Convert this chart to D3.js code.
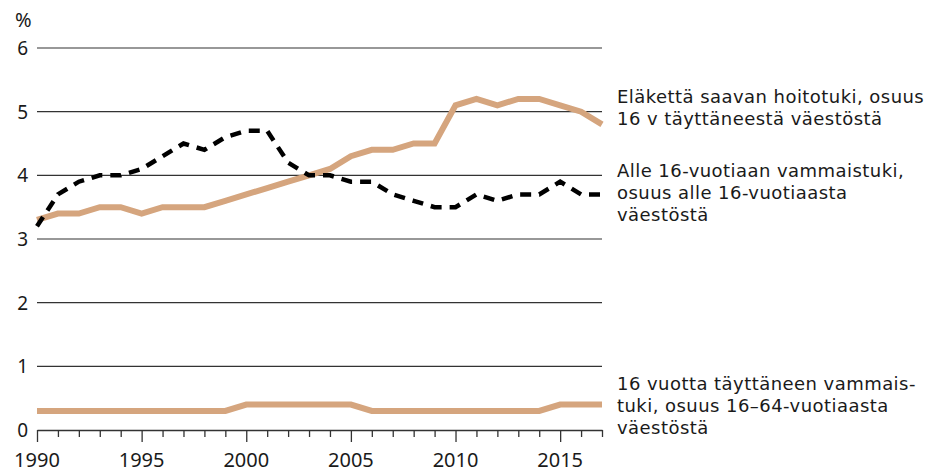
<!DOCTYPE html>
<html>
<head>
<meta charset="utf-8">
<script src="https://cdn.jsdelivr.net/npm/d3@7"></script>
<style>
  body { margin: 0; background: #fff; }
  svg text { font-family: "Noto Sans", sans-serif; fill: #1a1a1a; }
  svg text.lab { font-family: "DejaVu Sans", sans-serif; letter-spacing: 0.45px; }
</style>
</head>
<body>
<div id="chart"></div>
<script>
// Years on the x axis
var years = [1990,1991,1992,1993,1994,1995,1996,1997,1998,1999,2000,2001,2002,2003,
             2004,2005,2006,2007,2008,2009,2010,2011,2012,2013,2014,2015,2016,2017];

// Eläkettä saavan hoitotuki, % 16 v täyttäneestä väestöstä
var hoitotuki = [3.3,3.4,3.4,3.5,3.5,3.4,3.5,3.5,3.5,3.6,3.7,3.8,3.9,4.0,
                 4.1,4.3,4.4,4.4,4.5,4.5,5.1,5.2,5.1,5.2,5.2,5.1,5.0,4.8];

// Alle 16-vuotiaan vammaistuki, % alle 16-vuotiaasta väestöstä
var alle16 = [3.2,3.7,3.9,4.0,4.0,4.1,4.3,4.5,4.4,4.6,4.7,4.7,4.2,4.0,
              4.0,3.9,3.9,3.7,3.6,3.5,3.5,3.7,3.6,3.7,3.7,3.9,3.7,3.7];

// 16 vuotta täyttäneen vammaistuki, % 16-64-vuotiaasta väestöstä
var yli16 = [0.3,0.3,0.3,0.3,0.3,0.3,0.3,0.3,0.3,0.3,0.4,0.4,0.4,0.4,
             0.4,0.4,0.3,0.3,0.3,0.3,0.3,0.3,0.3,0.3,0.3,0.4,0.4,0.4];

var yTicks = [0,1,2,3,4,5,6];
var xTickLabels = [1990,1995,2000,2005,2010,2015];

var labels = [
  {lines: ["Eläkettä saavan hoitotuki, osuus", "16 v täyttäneestä väestöstä"], y: 103},
  {lines: ["Alle 16-vuotiaan vammaistuki,", "osuus alle 16-vuotiaasta", "väestöstä"], y: 177},
  {lines: ["16 vuotta täyttäneen vammais-", "tuki, osuus 16–64-vuotiaasta", "väestöstä"], y: 390}
];

var width = 936, height = 473;
var tan = "#d5a57e";

var x = d3.scaleLinear().domain([1990, 2017]).range([37, 602]);
var y = d3.scaleLinear().domain([0, 6]).range([430, 48]);

var svg = d3.select("#chart").append("svg")
  .attr("width", width)
  .attr("height", height);

// gridlines
svg.selectAll("line.grid")
  .data(yTicks.filter(function(d){ return d > 0; }))
  .enter().append("line")
  .attr("class", "grid")
  .attr("x1", x(1990)).attr("x2", x(2017))
  .attr("y1", function(d){ return y(d); })
  .attr("y2", function(d){ return y(d); })
  .attr("stroke", "#333")
  .attr("stroke-width", 1.2);

// y labels
svg.selectAll("text.ylab")
  .data(yTicks)
  .enter().append("text")
  .attr("class", "ylab")
  .attr("x", 28)
  .attr("y", function(d){ return y(d); })
  .attr("dy", "0.36em")
  .attr("text-anchor", "end")
  .style("font-size", "19px")
  .text(function(d){ return d; });

svg.append("text")
  .attr("x", 15).attr("y", 27)
  .style("font-size", "20px")
  .text("%");

// x axis with ticks for every year
var xAxis = d3.axisBottom(x)
  .tickValues(years)
  .tickSize(0)
  .tickFormat("");
var gx = svg.append("g")
  .attr("transform", "translate(0," + y(0) + ")")
  .call(xAxis);
gx.select(".domain").attr("stroke", "#333").attr("stroke-width", 1.5);
gx.selectAll(".tick line")
  .attr("stroke", "#333")
  .attr("stroke-width", 1.3)
  .attr("y2", function(d){ return d % 5 === 0 ? 12 : 7; });

svg.selectAll("text.xlab")
  .data(xTickLabels)
  .enter().append("text")
  .attr("class", "xlab")
  .attr("x", function(d){ return x(d); })
  .attr("y", 467)
  .attr("text-anchor", "middle")
  .style("font-size", "20px")
  .text(function(d){ return d; });

// lines
var line = d3.line()
  .x(function(d, i){ return x(years[i]); })
  .y(function(d){ return y(d); });

svg.append("path")
  .datum(yli16)
  .attr("d", line)
  .attr("fill", "none")
  .attr("stroke", tan)
  .attr("stroke-width", 6);

svg.append("path")
  .datum(hoitotuki)
  .attr("d", line)
  .attr("fill", "none")
  .attr("stroke", tan)
  .attr("stroke-width", 6);

svg.append("path")
  .datum(alle16)
  .attr("d", line)
  .attr("fill", "none")
  .attr("stroke", "#000")
  .attr("stroke-width", 4.5)
  .attr("stroke-dasharray", "11,8");

// series labels
labels.forEach(function(l){
  var t = svg.append("text")
    .attr("class", "lab")
    .attr("x", 617)
    .attr("y", l.y)
    .style("font-size", "18px");
  t.selectAll("tspan")
    .data(l.lines)
    .enter().append("tspan")
    .attr("x", 617)
    .attr("dy", function(d, i){ return i === 0 ? 0 : 22; })
    .text(function(d){ return d; });
});
</script>
</body>
</html>
